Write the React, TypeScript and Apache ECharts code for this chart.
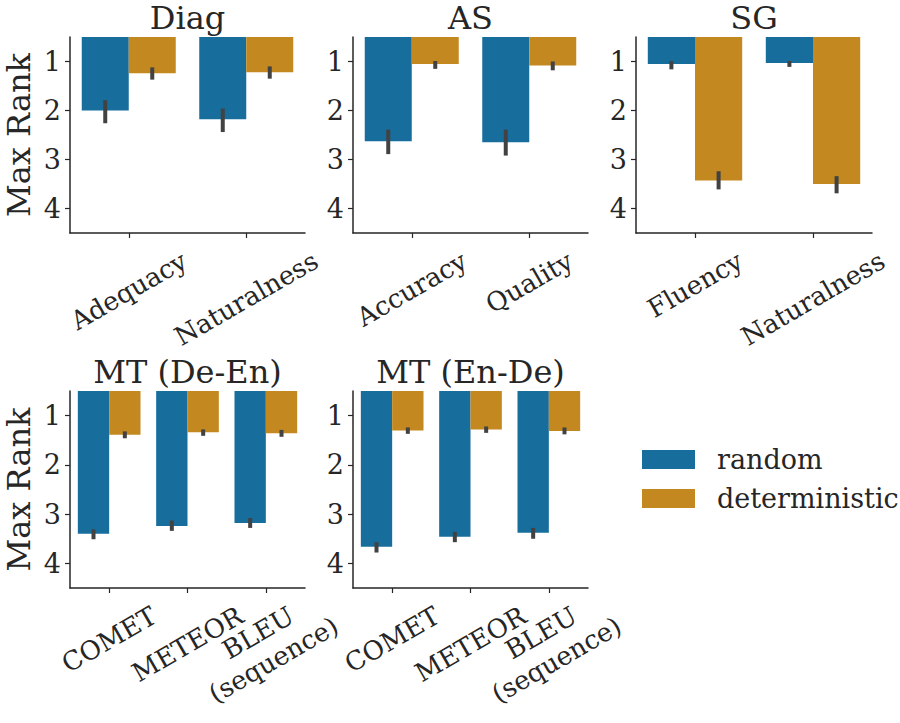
import React, { useEffect, useRef } from "react";
import * as echarts from "echarts";

// ---------- data ----------
const panelTitles = ["Diag", "AS", "SG", "MT (De-En)", "MT (En-De)"];
const seriesNames = ["random", "deterministic"];
const yTicks = [1, 2, 3, 4];

const diagCats = ["Adequacy", "Naturalness"];
const diagRandom = [2.0, 2.18];
const diagRandomLo = [1.79, 1.96];
const diagRandomHi = [2.26, 2.44];
const diagDet = [1.24, 1.22];
const diagDetLo = [1.12, 1.1];
const diagDetHi = [1.37, 1.35];

const asCats = ["Accuracy", "Quality"];
const asRandom = [2.63, 2.65];
const asRandomLo = [2.39, 2.39];
const asRandomHi = [2.89, 2.92];
const asDet = [1.05, 1.08];
const asDetLo = [0.99, 1.0];
const asDetHi = [1.15, 1.18];

const sgCats = ["Fluency", "Naturalness"];
const sgRandom = [1.05, 1.03];
const sgRandomLo = [0.99, 0.99];
const sgRandomHi = [1.16, 1.11];
const sgDet = [3.43, 3.5];
const sgDetLo = [3.24, 3.34];
const sgDetHi = [3.61, 3.69];

const mtCats = ["COMET", "METEOR", "BLEU\n(sequence)"];
const deEnRandom = [3.4, 3.24, 3.18];
const deEnRandomLo = [3.31, 3.13, 3.08];
const deEnRandomHi = [3.51, 3.34, 3.28];
const deEnDet = [1.39, 1.34, 1.36];
const deEnDetLo = [1.32, 1.28, 1.29];
const deEnDetHi = [1.46, 1.41, 1.43];

const enDeRandom = [3.66, 3.46, 3.38];
const enDeRandomLo = [3.57, 3.36, 3.28];
const enDeRandomHi = [3.78, 3.57, 3.5];
const enDeDet = [1.3, 1.28, 1.31];
const enDeDetLo = [1.24, 1.22, 1.24];
const enDeDetHi = [1.37, 1.35, 1.38];

const panels = [
  { cats: diagCats, vals: [diagRandom, diagDet], lo: [diagRandomLo, diagDetLo], hi: [diagRandomHi, diagDetHi] },
  { cats: asCats, vals: [asRandom, asDet], lo: [asRandomLo, asDetLo], hi: [asRandomHi, asDetHi] },
  { cats: sgCats, vals: [sgRandom, sgDet], lo: [sgRandomLo, sgDetLo], hi: [sgRandomHi, sgDetHi] },
  { cats: mtCats, vals: [deEnRandom, deEnDet], lo: [deEnRandomLo, deEnDetLo], hi: [deEnRandomHi, deEnDetHi] },
  { cats: mtCats, vals: [enDeRandom, enDeDet], lo: [enDeRandomLo, enDeDetLo], hi: [enDeRandomHi, enDeDetHi] },
];

// ---------- style ----------
const COLORS = ["#176d9c", "#c38820"];
const ERR = "#424242";
const INK = "#262626";
const FONT = '"DejaVu Serif", "Liberation Serif", serif';
const TITLE_FS = 32;
const YLABEL_FS = 32;
const TICK_FS = 27;
const XTICK_FS = 26;
const LEG_FS = 27;

const grids = [
  { left: 70, top: 37, width: 235, height: 196 },
  { left: 353, top: 37, width: 235, height: 196 },
  { left: 636, top: 37, width: 236, height: 196 },
  { left: 70, top: 391, width: 235, height: 197 },
  { left: 353, top: 391, width: 235, height: 197 },
];
const titleTops = [2, 2, 2, 356, 356];

export default function App() {
  const ref = useRef<HTMLDivElement>(null);
  useEffect(() => {
    if (!ref.current) return;
    const chart = echarts.init(ref.current, null, { renderer: "svg" });

    const xAxes: any[] = [];
    const yAxes: any[] = [];
    const series: any[] = [];
    panels.forEach((p, i) => {
      xAxes.push({
        type: "category",
        gridIndex: i,
        data: p.cats,
        axisLine: { show: true, lineStyle: { color: INK, width: 1.5 } },
        axisTick: { show: true, alignWithLabel: true, length: 5, lineStyle: { color: INK, width: 1.2 } },
        axisLabel: { show: false },
        splitLine: { show: false },
      });
      yAxes.push({
        type: "value",
        gridIndex: i,
        inverse: true,
        min: 0.5,
        max: 4.5,
        name: i === 0 || i === 3 ? "Max Rank" : "",
        nameLocation: "middle",
        nameRotate: 90,
        nameGap: 35,
        nameTextStyle: { fontFamily: FONT, fontSize: YLABEL_FS, color: INK, lineHeight: YLABEL_FS },
        axisLine: { show: true, lineStyle: { color: INK, width: 1.5 } },
        axisTick: { show: true, length: 5, customValues: yTicks, lineStyle: { color: INK, width: 1.2 } },
        axisLabel: {
          show: true,
          customValues: yTicks,
          margin: 9,
          fontFamily: FONT,
          fontSize: TICK_FS,
          color: INK,
          formatter: (v: number) => (Number.isInteger(v) ? String(v) : ""),
        },
        splitLine: { show: false },
      });
      [0, 1].forEach((h) => {
        series.push({
          type: "bar",
          name: seriesNames[h],
          xAxisIndex: i,
          yAxisIndex: i,
          data: p.vals[h],
          barGap: "0%",
          barCategoryGap: "20%",
          clip: true,
          itemStyle: { color: COLORS[h] },
          z: 2,
        });
      });
      [0, 1].forEach((h) => {
        const off = h === 0 ? -0.2 : 0.2;
        series.push({
          type: "custom",
          name: "err-" + seriesNames[h],
          xAxisIndex: i,
          yAxisIndex: i,
          z: 3,
          data: p.cats.map((_, j) => [j, p.lo[h][j], p.hi[h][j]]),
          encode: { x: 0, y: [1, 2] },
          renderItem: (params: any, api: any) => {
            const x = api.value(0);
            const a = api.coord([x, api.value(1)]);
            const b = api.coord([x, api.value(2)]);
            const band = api.size([1, 0])[0];
            return {
              type: "line",
              shape: { x1: a[0] + off * band, y1: a[1], x2: b[0] + off * band, y2: b[1] },
              style: { stroke: ERR, lineWidth: 4 },
            };
          },
        });
      });
    });

    const option: any = {
      animation: false,
      backgroundColor: "#ffffff",
      title: panelTitles.map((t, i) => ({
        text: t,
        left: grids[i].left + grids[i].width / 2,
        top: titleTops[i],
        padding: 0,
        textAlign: "center",
        textStyle: { fontFamily: FONT, fontSize: TITLE_FS, fontWeight: "normal", color: INK, lineHeight: TITLE_FS },
      })),
      grid: grids.map((g) => ({ ...g, containLabel: false })),
      xAxis: xAxes,
      yAxis: yAxes,
      legend: {
        data: seriesNames,
        orient: "vertical",
        left: 642,
        top: 446,
        padding: 0,
        itemWidth: 53,
        itemHeight: 19,
        itemGap: 12,
        icon: "rect",
        textStyle: { fontFamily: FONT, fontSize: LEG_FS, color: INK, padding: [0, 0, 0, 17] },
      },
      series,
    };
    chart.setOption(option);

    // rotated x tick labels, placed like matplotlib (centred on tick, rotated extent top at pad)
    const cv = document.createElement("canvas").getContext("2d")!;
    cv.font = `${XTICK_FS}px ${FONT}`;
    const PAD = 12;
    const TH = Math.PI / 6;
    const LH = XTICK_FS * 1.2;
    const graphics: any[] = [];
    panels.forEach((p, i) => {
      p.cats.forEach((c, j) => {
        const pt = chart.convertToPixel({ gridIndex: i } as any, [j, 4.5]) as number[];
        const lines = c.split("\n");
        const n = lines.length;
        let minY = Infinity;
        lines.forEach((l, k) => {
          const w = cv.measureText(l).width;
          const y0 = -(n * LH) / 2 + k * LH;
          const corners = [
            [-w / 2, y0], [w / 2, y0], [-w / 2, y0 + LH], [w / 2, y0 + LH],
          ];
          corners.forEach(([x, y]) => {
            const Y = -x * Math.sin(TH) + y * Math.cos(TH);
            minY = Math.min(minY, Y);
          });
        });
        graphics.push({
          type: "text",
          x: pt[0],
          y: pt[1] + PAD - minY,
          rotation: TH,
          style: {
            text: c,
            fontFamily: FONT,
            fontSize: XTICK_FS,
            fill: INK,
            align: "center",
            verticalAlign: "middle",
            lineHeight: LH,
          },
        });
      });
    });
    chart.setOption({ graphic: graphics });

    return () => chart.dispose();
  }, []);
  return (
    <div
      ref={ref}
      style={{ position: "absolute", left: 0, top: 0, width: 900, height: 723, background: "#fff" }}
    />
  );
}
